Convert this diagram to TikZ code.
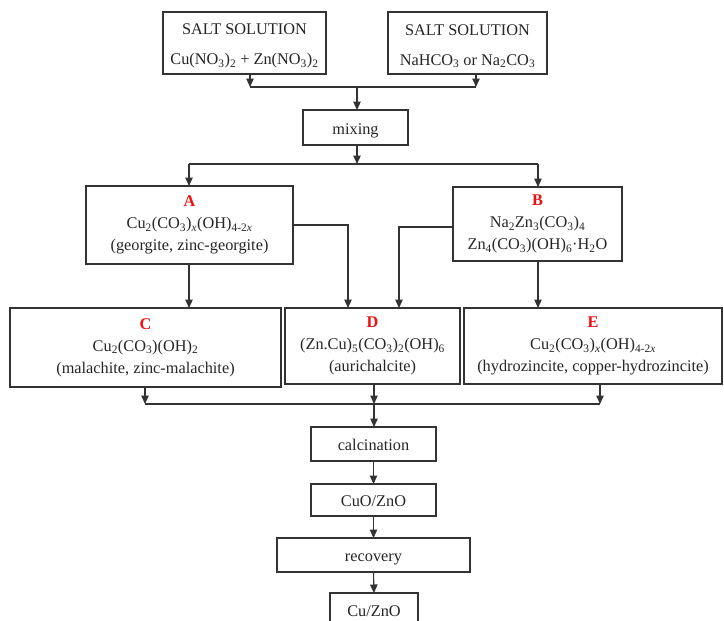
\documentclass[tikz,border=0pt]{standalone}
\usepackage{fontspec}
\setmainfont{Liberation Serif}
\usetikzlibrary{arrows.meta}
\definecolor{lncol}{HTML}{333333}
\definecolor{labred}{HTML}{F01010}
\newcommand{\sbs}[1]{\textsubscript{#1}}
\newcommand{\lbl}[1]{\textcolor{labred}{\textbf{#1}}}
\begin{document}
\begin{tikzpicture}[x=1pt,y=-1pt,
  box/.style={draw=lncol, line width=1.1pt, rectangle, inner sep=0pt, outer sep=0pt,
    align=center, font=\fontsize{16.3}{22}\selectfont, text=black!85},
  stepbox/.style={box, text height=15pt, text depth=2pt},
  topbox/.style={box, font=\fontsize{16.3}{30}\selectfont},
  wire/.style={draw=lncol, line width=1.1pt},
  arr/.style={draw=lncol, line width=1.1pt, -{Triangle[length=8.5pt,width=7.5pt]}}]
\useasboundingbox (0,0) rectangle (724,621);
\clip (0,0) rectangle (724,621);
\fill[white] (0,0) rectangle (724,621);

\node[topbox, minimum width=163, minimum height=62] (s1) at (244.5,43)
  {\rule{0pt}{17pt}SALT SOLUTION\\Cu(NO\sbs{3})\sbs{2} + Zn(NO\sbs{3})\sbs{2}};
\node[topbox, minimum width=159, minimum height=62] (s2) at (467.5,43)
  {\rule{0pt}{17pt}SALT SOLUTION\\NaHCO\sbs{3} or Na\sbs{2}CO\sbs{3}};
\node[stepbox, minimum width=105, minimum height=35] (mix) at (355.5,127.5) {mixing};
\node[box, minimum width=207, minimum height=78] (A) at (189.5,225)
  {\lbl{A}\\Cu\sbs{2}(CO\sbs{3})\sbs{\textit{x}}(OH)\sbs{4-2\textit{x}}\\(georgite, zinc-georgite)};
\node[box, minimum width=169, minimum height=74] (B) at (537.5,224)
  {\lbl{B}\\Na\sbs{2}Zn\sbs{3}(CO\sbs{3})\sbs{4}\\Zn\sbs{4}(CO\sbs{3})(OH)\sbs{6}·H\sbs{2}O};
\node[box, minimum width=271, minimum height=79] (C) at (145.5,347.5)
  {\lbl{C}\\Cu\sbs{2}(CO\sbs{3})(OH)\sbs{2}\\(malachite, zinc-malachite)};
\node[box, minimum width=175, minimum height=76] (D) at (372.5,346)
  {\lbl{D}\\(Zn.Cu)\sbs{5}(CO\sbs{3})\sbs{2}(OH)\sbs{6}\\(aurichalcite)};
\node[box, minimum width=258, minimum height=76] (E) at (593,346)
  {\lbl{E}\\Cu\sbs{2}(CO\sbs{3})\sbs{\textit{x}}(OH)\sbs{4-2\textit{x}}\\(hydrozincite, copper-hydrozincite)};
\node[stepbox, minimum width=125, minimum height=34] (calc) at (373.5,444) {calcination};
\node[stepbox, minimum width=125, minimum height=32] (cuo) at (373.5,500) {CuO/ZnO};
\node[stepbox, minimum width=193, minimum height=34] (rec) at (373.5,555) {recovery};
\node[stepbox, minimum width=88, minimum height=34] (cu) at (374,610) {Cu/ZnO};

% top junction
\coordinate (t1) at (250,87);
\coordinate (t2) at (476,87);
\coordinate (tm) at (357,87);
\draw[arr] (s1.south -| t1) -- (t1);
\draw[arr] (s2.south -| t2) -- (t2);
\draw[wire] (t1) -- (t2);
\draw[arr] (tm) -- (mix.north -| tm);

% mixing split
\coordinate (m1) at (189,164);
\coordinate (m2) at (538,164);
\coordinate (mm) at (357,164);
\draw[arr] (mix.south -| mm) -- (mm);
\draw[wire] (m1) -- (m2);
\draw[arr] (m1) -- (A.north -| m1);
\draw[arr] (m2) -- (B.north -| m2);

% A, B to C, D, E
\draw[arr] (A.south -| m1) -- (C.north -| m1);
\coordinate (ad) at (348,225);
\draw[arr] (A.east |- ad) -- (ad) -- (D.north -| ad);
\coordinate (bd) at (399,227);
\draw[arr] (B.west |- bd) -- (bd) -- (D.north -| bd);
\draw[arr] (B.south -| m2) -- (E.north -| m2);

% bottom junction
\coordinate (b1) at (145,404);
\coordinate (b2) at (600,404);
\coordinate (bm) at (374,404);
\draw[arr] (C.south -| b1) -- (b1);
\draw[arr] (D.south -| bm) -- (bm);
\draw[arr] (E.south -| b2) -- (b2);
\draw[wire] (b1) -- (b2);
\draw[arr] (bm) -- (calc.north -| bm);

\draw[arr] (calc.south) -- (cuo.north);
\draw[arr] (cuo.south) -- (rec.north);
\draw[arr] (rec.south) -- (cu.north);
\end{tikzpicture}
\end{document}
